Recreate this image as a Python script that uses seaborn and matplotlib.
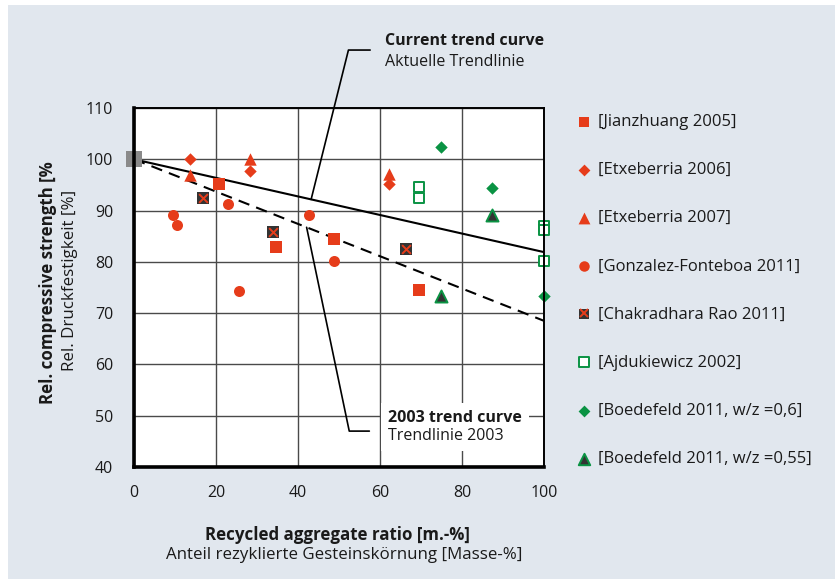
import numpy as np
import pandas as pd
import matplotlib
matplotlib.use("Agg")
import matplotlib.pyplot as plt
from matplotlib.patches import Rectangle
from matplotlib.lines import Line2D
from matplotlib.offsetbox import TextArea, VPacker, AnnotationBbox
from matplotlib.legend_handler import HandlerTuple
import seaborn as sns

# ---------------- data ----------------
x_ticks = [0, 20, 40, 60, 80, 100]
y_ticks = [40, 50, 60, 70, 80, 90, 100, 110]

jianzhuang_x = [20.8, 34.6, 48.8, 69.6]
jianzhuang_y = [95.1, 82.8, 84.5, 74.5]

etx2006_x = [13.7, 28.3, 62.1]
etx2006_y = [100.0, 97.7, 95.1]

etx2007_x = [13.7, 28.3, 62.1]
etx2007_y = [96.9, 100.0, 97.1]

gonzalez_x = [9.4, 10.6, 23.0, 25.5, 42.6, 48.8]
gonzalez_y = [89.1, 87.1, 91.2, 74.3, 89.1, 80.2]

chakra_x = [16.9, 33.8, 66.3]
chakra_y = [92.5, 85.8, 82.5]

ajduk_x = [69.6, 69.6, 100.0, 100.0, 100.0]
ajduk_y = [94.5, 92.4, 86.9, 86.2, 80.2]

boed06_x = [74.9, 87.4, 100.0]
boed06_y = [102.3, 94.4, 73.3]

boed055_x = [87.4, 74.9]
boed055_y = [89.1, 73.3]

origin_x = [0]
origin_y = [100]

trend_x = [0, 100]
trend_current_y = [100, 81.9]
trend_2003_y = [100, 68.5]

legend_labels = ["[Jianzhuang 2005]", "[Etxeberria 2006]", "[Etxeberria 2007]",
                 "[Gonzalez-Fonteboa 2011]", "[Chakradhara Rao 2011]",
                 "[Ajdukiewicz 2002]", "[Boedefeld 2011, w/z =0,6]",
                 "[Boedefeld 2011, w/z =0,55]"]

# ---------------- style ----------------
sns.set_theme(style="white")
plt.rcParams['font.family'] = ['Open Sans', 'DejaVu Sans']

BG = '#e1e7ee'
RED = '#e63c1a'
GREEN = '#0a9343'
DARK = '#333333'
TXT = '#1a1a1a'
FS = 11.5      # ticks, annotations
FS_LEG = 12.0  # legend
FS_LAB = 12.2  # axis labels

W, H = 835, 579
fig = plt.figure(figsize=(W / 100, H / 100), dpi=100, facecolor='white')
fig.patches.append(Rectangle((8 / W, 0), 1, 1 - 5 / H, transform=fig.transFigure,
                             facecolor=BG, edgecolor='none', zorder=-10))

ax = fig.add_axes([134 / W, 1 - 467 / H, 410 / W, 359 / H])
ax.set_facecolor('white')

# trend lines
sns.lineplot(x=trend_x, y=trend_current_y, color='black', lw=1.5, ax=ax, zorder=3)
sns.lineplot(x=trend_x, y=trend_2003_y, color='black', lw=1.5, ax=ax, zorder=3,
             linestyle=(0, (5.5, 3.5)))

# data series
common = dict(ax=ax, zorder=4, clip_on=False)
sns.scatterplot(x=jianzhuang_x, y=jianzhuang_y, marker='s', s=63, color=RED,
                linewidth=0, label=legend_labels[0], **common)
sns.scatterplot(x=etx2006_x, y=etx2006_y, marker='D', s=40, color=RED,
                linewidth=0, label=legend_labels[1], **common)
sns.scatterplot(x=etx2007_x, y=etx2007_y, marker='^', s=80, color=RED,
                linewidth=0, label=legend_labels[2], **common)
sns.scatterplot(x=gonzalez_x, y=gonzalez_y, marker='o', s=63, color=RED,
                linewidth=0, label=legend_labels[3], **common)
sns.scatterplot(x=chakra_x, y=chakra_y, marker='s', s=63, color=DARK,
                linewidth=0, label=legend_labels[4], **common)
ax.scatter(chakra_x, chakra_y, marker='x', s=40, color=RED, linewidths=1.4,
           zorder=5, clip_on=False, label='_chakra_x')
sns.scatterplot(x=ajduk_x, y=ajduk_y, marker='s', s=50, facecolor='white',
                edgecolor=GREEN, linewidth=1.4, label=legend_labels[5], **common)
sns.scatterplot(x=boed06_x, y=boed06_y, marker='D', s=40, color=GREEN,
                linewidth=0, label=legend_labels[6], **common)
sns.scatterplot(x=boed055_x, y=boed055_y, marker='^', s=75, facecolor=DARK,
                edgecolor=GREEN, linewidth=1.4, label=legend_labels[7], **common)

# common origin marker
sns.scatterplot(x=origin_x, y=origin_y, marker='s', s=140, color='#8a8a8a',
                linewidth=0, ax=ax, zorder=6, clip_on=False, legend=False)

# axes
ax.set_xlim(0, 100)
ax.set_ylim(40, 110)
ax.set_xticks(x_ticks)
ax.set_yticks(y_ticks)
ax.set_xlabel('')
ax.set_ylabel('')
ax.grid(True, color='#4a4a4a', lw=1.0)
ax.set_axisbelow(True)
ax.tick_params(length=0, labelsize=FS, colors=TXT)
ax.tick_params(axis='x', pad=13)
ax.tick_params(axis='y', pad=15)
for side, lw in (('left', 2.6), ('bottom', 2.6), ('top', 1.4), ('right', 1.4)):
    ax.spines[side].set_visible(True)
    ax.spines[side].set_color('black')
    ax.spines[side].set_linewidth(lw)
    ax.spines[side].set_zorder(7)

# legend
handles, labels = ax.get_legend_handles_labels()
hmap = dict(zip(labels, handles))
chakra_x_handle = Line2D([], [], marker='x', color=RED, linestyle='none',
                         markersize=6.0, markeredgewidth=1.4)
leg_handles = []
for lab in legend_labels:
    h = hmap[lab]
    if lab == legend_labels[4]:
        h = (h, chakra_x_handle)
    leg_handles.append(h)
ax.legend(leg_handles, legend_labels, loc='upper left',
          bbox_to_anchor=(576 / W, 1 - 114 / H), bbox_transform=fig.transFigure,
          frameon=False, fontsize=FS_LEG, labelspacing=1.93, handlelength=1.0,
          handletextpad=0.3, borderpad=0, borderaxespad=0, markerscale=0.95,
          labelcolor=TXT, handler_map={tuple: HandlerTuple(ndivide=1, pad=0)})

# axis labels
fig.text(48 / W, 1 - 283 / H, 'Rel. compressive strength [%', rotation=90,
         ha='center', va='center', fontsize=FS_LAB, fontweight='bold', color=TXT)
fig.text(70 / W, 1 - 280 / H, 'Rel. Druckfestigkeit [%]', rotation=90,
         ha='center', va='center', fontsize=FS_LAB, color=TXT)
fig.text(337 / W, 1 - 535 / H, 'Recycled aggregate ratio [m.-%]',
         ha='center', va='center', fontsize=FS_LAB, fontweight='bold', color=TXT)
fig.text(344 / W, 1 - 555 / H, 'Anteil rezyklierte Gesteinskörnung [Masse-%]',
         ha='center', va='center', fontsize=FS_LAB, color=TXT)

# annotation: current trend curve
ax.plot([43.2, 52.3, 57.6], [100 - 0.181 * 43.2, 121.3, 121.3], color='black',
        lw=1.2, clip_on=False, zorder=8)
fig.text(385 / W, 1 - 41 / H, 'Current trend curve', ha='left', va='center',
         fontsize=FS, fontweight='bold', color=TXT)
fig.text(385 / W, 1 - 62 / H, 'Aktuelle Trendlinie', ha='left', va='center',
         fontsize=FS, color=TXT)

# annotation: 2003 trend curve
ax.plot([42.1, 52.5, 57.4], [100 - 0.315 * 42.1, 47.0, 47.0], color='black',
        lw=1.2, zorder=8)
box = VPacker(children=[TextArea('2003 trend curve',
                                 textprops=dict(fontsize=FS, fontweight='bold', color=TXT)),
                        TextArea('Trendlinie 2003',
                                 textprops=dict(fontsize=FS, color=TXT))],
              align='left', pad=0, sep=2)
ab = AnnotationBbox(box, (61.9, 47.8), xycoords='data', box_alignment=(0, 0.5),
                    frameon=True, pad=0.45,
                    bboxprops=dict(facecolor='white', edgecolor='none'))
ab.set_zorder(2)
ax.add_artist(ab)

fig.savefig('out.png', dpi=100, facecolor='white')
